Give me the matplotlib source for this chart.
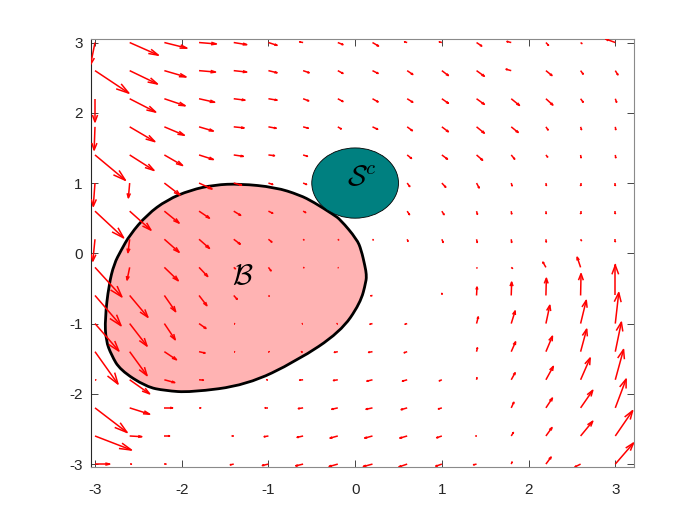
import matplotlib
matplotlib.use('Agg')
import matplotlib.pyplot as plt
import numpy as np
from matplotlib.collections import LineCollection
from matplotlib.patches import PathPatch, Circle
from matplotlib.path import Path

plt.rcParams['mathtext.fontset'] = 'cm'
plt.rcParams['axes.unicode_minus'] = False
plt.rcParams['font.family'] = ['Liberation Sans', 'DejaVu Sans']

# grid of arrow tails
x_vals = [-3.0, -2.6, -2.2, -1.8, -1.4, -1.0, -0.6, -0.2, 0.2, 0.6, 1.0, 1.4, 1.8, 2.2, 2.6, 3.0]
y_vals = [-3.0, -2.6, -2.2, -1.8, -1.4, -1.0, -0.6, -0.2, 0.2, 0.6, 1.0, 1.4, 1.8, 2.2, 2.6, 3.0]

# arrow components (rows: y from -3 up to 3, columns: x from -3 to 3)
u_rows = [
    [0.17, 0.02, 0.02, 0.0, -0.04, -0.07, -0.085, -0.10, -0.105, -0.095, -0.07, -0.035, 0.01, 0.06, -0.065, 0.21],
    [0.42, 0.14, 0.06, 0.0, -0.02, -0.05, -0.07, -0.09, -0.09, -0.085, -0.06, -0.01, 0.025, 0.07, 0.14, 0.20],
    [0.37, 0.23, 0.095, 0.02, 0.0, -0.04, -0.055, -0.07, -0.075, -0.07, -0.04, 0.0, 0.03, 0.075, 0.14, 0.125],
    [0.01, 0.23, 0.12, 0.05, 0.0, -0.02, -0.04, -0.05, -0.065, -0.055, -0.03, 0.005, 0.045, 0.085, 0.11, 0.095],
    [0.265, 0.20, 0.14, 0.07, 0.01, 0.01, -0.02, -0.04, -0.045, -0.035, 0.0, 0.01, 0.05, 0.075, 0.07, 0.07],
    [0.275, 0.20, 0.125, 0.08, 0.01, 0.0, -0.01, -0.01, -0.03, -0.025, 0.0, 0.02, 0.045, 0.045, 0.065, 0.04],
    [0.30, 0.21, 0.13, 0.09, 0.04, 0.01, 0.0, 0.0, -0.02, 0.0, 0.0, 0.005, 0.005, 0.005, 0.005, 0.0],
    [0.31, -0.03, 0.16, 0.10, 0.02, 0.03, 0.01, 0.005, 0.0, 0.0, 0.0, 0.005, 0.015, -0.035, -0.04, 0.0],
    [-0.025, -0.02, 0.17, 0.12, 0.075, 0.04, 0.01, 0.01, 0.01, 0.01, 0.015, 0.008, 0.005, 0.004, 0.01, 0.0],
    [0.33, 0.245, 0.17, 0.12, 0.08, 0.05, 0.03, 0.0, 0.0, 0.027, 0.025, 0.01, 0.005, 0.003, 0.0, 0.0],
    [-0.02, -0.015, 0.18, 0.15, 0.09, 0.05, 0.04, 0.0, 0.0, 0.03, 0.045, 0.03, 0.01, 0.005, 0.0, 0.0],
    [0.35, 0.28, 0.21, 0.165, 0.11, 0.07, 0.05, 0.0, 0.0, 0.05, 0.065, 0.07, 0.04, 0.02, 0.005, 0.005],
    [-0.01, 0.29, 0.23, 0.165, 0.12, 0.09, 0.06, 0.04, 0.06, 0.06, 0.075, 0.09, 0.08, 0.025, 0.01, 0.005],
    [0.0, 0.30, 0.24, 0.18, 0.13, 0.10, 0.065, 0.06, 0.065, 0.065, 0.075, 0.09, 0.095, 0.08, 0.03, 0.015],
    [0.39, 0.32, 0.25, 0.19, 0.15, 0.10, 0.07, 0.06, 0.065, 0.065, 0.075, 0.09, -0.06, 0.07, 0.03, 0.03],
    [-0.05, 0.33, 0.26, 0.20, 0.15, 0.10, -0.04, 0.06, 0.07, -0.03, -0.03, 0.06, -0.05, 0.03, 0.015, -0.11],
]
v_rows = [
    [0.0, 0.0, 0.0, 0.0, -0.01, -0.02, -0.025, -0.035, -0.035, -0.04, -0.03, -0.01, 0.03, 0.10, -0.04, 0.30],
    [-0.20, -0.01, 0.0, 0.0, 0.0, -0.01, -0.02, -0.03, -0.03, -0.03, -0.025, 0.0, 0.05, 0.12, 0.21, 0.36],
    [-0.35, -0.09, 0.0, 0.0, 0.0, 0.0, -0.01, -0.02, -0.02, -0.025, -0.015, 0.0, 0.08, 0.14, 0.25, 0.41],
    [0.0, -0.20, -0.04, -0.005, 0.0, 0.0, -0.005, -0.01, -0.02, -0.02, -0.015, 0.03, 0.10, 0.19, 0.31, 0.43],
    [-0.46, -0.34, -0.115, -0.02, 0.0, 0.0, 0.0, -0.01, -0.01, -0.015, 0.0, 0.055, 0.14, 0.22, 0.32, 0.42],
    [-0.39, -0.32, -0.23, -0.07, 0.0, 0.0, 0.0, 0.0, -0.01, -0.01, 0.0, 0.095, 0.18, 0.26, 0.33, 0.44],
    [-0.43, -0.31, -0.23, -0.145, -0.055, -0.01, 0.0, 0.0, -0.005, 0.0, 0.03, 0.12, 0.19, 0.245, 0.31, 0.43],
    [-0.42, -0.18, -0.19, -0.13, -0.02, -0.05, -0.005, -0.005, 0.0, 0.0, 0.0, -0.01, -0.015, 0.075, 0.145, 0.04],
    [-0.31, -0.19, -0.185, -0.13, -0.07, -0.04, -0.01, -0.01, -0.01, -0.03, -0.045, -0.045, -0.045, -0.04, -0.02, -0.035],
    [-0.38, -0.27, -0.17, -0.10, -0.06, -0.03, -0.02, 0.0, 0.0, -0.05, -0.05, -0.045, -0.04, -0.035, -0.035, -0.035],
    [-0.33, -0.21, -0.17, -0.085, -0.03, -0.02, -0.02, 0.0, 0.0, -0.05, -0.06, -0.07, -0.04, -0.035, -0.035, -0.035],
    [-0.36, -0.22, -0.15, -0.065, -0.02, -0.01, -0.02, 0.0, 0.0, -0.05, -0.06, -0.075, -0.06, -0.03, -0.04, -0.04],
    [-0.33, -0.21, -0.12, -0.06, -0.015, -0.02, -0.02, -0.03, -0.035, -0.055, -0.07, -0.09, -0.08, -0.045, -0.04, -0.04],
    [-0.33, -0.19, -0.10, -0.05, -0.02, -0.02, -0.03, -0.04, -0.045, -0.05, -0.065, -0.08, -0.095, -0.09, -0.05, -0.05],
    [-0.32, -0.19, -0.09, -0.02, -0.02, -0.03, -0.03, -0.04, -0.04, -0.055, -0.07, -0.08, 0.02, -0.07, -0.05, -0.06],
    [-0.31, -0.18, -0.08, -0.02, -0.03, -0.04, 0.01, -0.03, -0.05, 0.01, 0.01, -0.05, 0.015, -0.04, -0.015, 0.05],
]

# outline of region B (counter-clockwise)
b_x = [0.13, 0.115, 0.07, 0.02, -0.17, -0.25, -0.48, -0.64, -0.92, -1.33, -1.62, -1.90, -2.17, -2.40,
       -2.60, -2.70, -2.78, -2.84, -2.885, -2.875, -2.81, -2.71, -2.41, -2.19, -1.90, -1.25, -0.67,
       -0.17, 0.06, 0.127]
b_y = [-0.30, -0.19, 0.05, 0.20, 0.48, 0.55, 0.73, 0.83, 0.94, 0.99, 0.975, 0.90, 0.76, 0.55,
       0.26, 0.04, -0.15, -0.45, -0.93, -1.24, -1.45, -1.66, -1.90, -1.955, -1.98, -1.875, -1.53,
       -1.12, -0.71, -0.40]

# region S^c: circle
s_center = (0.0, 1.0)
s_radius = 0.5

fig = plt.figure(figsize=(7, 5.25), dpi=100)
ax = fig.add_axes([0.13, 0.11, 0.775, 0.815])

# smooth closed outline: read points as quadratic Bezier controls, midpoints on curve
P = np.column_stack([b_x, b_y])
M = 0.5 * (P + np.roll(P, -1, axis=0))
verts = [M[-1]]
codes = [Path.MOVETO]
for k in range(len(P)):
    verts += [P[k], M[k]]
    codes += [Path.CURVE3, Path.CURVE3]
verts.append(M[-1])
codes.append(Path.CLOSEPOLY)
ax.add_patch(PathPatch(Path(verts, codes), facecolor='#ffb3b3', edgecolor='black',
                       linewidth=2.0, zorder=1))

X, Y = np.meshgrid(x_vals, y_vals)
U = np.array(u_rows)
V = np.array(v_rows)
alpha, beta = 0.3, 0.3
tx, ty = X + U, Y + V
w1x = tx - alpha * (U + beta * V)
w1y = ty - alpha * (V - beta * U)
w2x = tx - alpha * (U - beta * V)
w2y = ty - alpha * (V + beta * U)
segs = []
for a in range(U.shape[0]):
    for b in range(U.shape[1]):
        if abs(U[a, b]) + abs(V[a, b]) < 1e-9:
            continue
        segs.append([(X[a, b], Y[a, b]), (tx[a, b], ty[a, b])])
        segs.append([(w1x[a, b], w1y[a, b]), (tx[a, b], ty[a, b]), (w2x[a, b], w2y[a, b])])
ax.add_collection(LineCollection(segs, colors='red', linewidths=1.1, zorder=3))

ax.add_patch(Circle(s_center, s_radius, facecolor='#008080', edgecolor='black',
                    linewidth=0.6, zorder=4))

ax.text(0.08, 1.07, r'$\mathcal{S}^c$', fontsize=21, ha='center', va='center', zorder=5)
ax.text(-1.3, -0.33, r'$\mathcal{B}$', fontsize=21, ha='center', va='center', zorder=5)

ax.set_xlim(-3.046, 3.21)
ax.set_ylim(-3.045, 3.045)
ax.set_xticks(range(-3, 4))
ax.set_yticks(range(-3, 4))
ax.tick_params(direction='in', top=True, right=True, length=5, width=0.6,
               colors='#262626', labelsize=11)
ax.tick_params(axis='x', pad=11)
ax.tick_params(axis='y', pad=6)
for side in ['top', 'right', 'bottom']:
    ax.spines[side].set_color('#8a8a8a')
    ax.spines[side].set_linewidth(0.8)
ax.spines['left'].set_color('#262626')
ax.spines['left'].set_linewidth(0.8)

fig.savefig('out.png', dpi=100)
